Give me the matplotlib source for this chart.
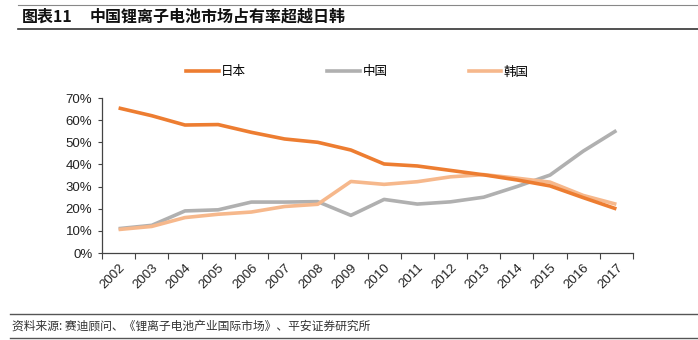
import matplotlib
matplotlib.use('Agg')
import matplotlib.pyplot as plt
from matplotlib.lines import Line2D

years = [str(y) for y in range(2002, 2018)]
japan = [65.5, 62, 57.8, 58, 54.5, 51.5, 50, 46.5, 40.2, 39.3, 37.3, 35.3, 33, 30.3, 25, 19.9]
china = [11, 12.5, 19, 19.5, 23, 23, 23.2, 17, 24.2, 22.1, 23.1, 25.2, 30, 35.2, 46, 55.3]
korea = [10.6, 12, 16, 17.5, 18.5, 21, 22, 32.3, 31, 32.2, 34.4, 35.4, 33.8, 32, 26, 22]
yticks = [0, 10, 20, 30, 40, 50, 60, 70]

c_jp = '#ED7D31'
c_cn = '#B0B0B0'
c_kr = '#F6B88C'

cjk = ['Noto Sans CJK SC', 'DejaVu Sans']
arial = 'Liberation Sans'

fig = plt.figure(figsize=(6.98, 3.40), dpi=100)
ax = fig.add_axes([102 / 698, 1 - 253 / 340, 531 / 698, 155 / 340])

x = list(range(len(years)))
ax.plot(x, japan, color=c_jp, lw=2.6, solid_capstyle='butt', zorder=3)
ax.plot(x, china, color=c_cn, lw=2.6, solid_capstyle='butt', zorder=2)
ax.plot(x, korea, color=c_kr, lw=2.6, solid_capstyle='butt', zorder=2)

ax.set_xlim(-0.5, len(years) - 0.5)
ax.set_ylim(0, 70)
ax.set_yticks(yticks)
ax.set_yticklabels(['%d%%' % v for v in yticks], fontsize=9.5, family=arial, color='#222222')
ax.tick_params(axis='y', length=3, width=0.8, color='#444444', pad=4)

ax.set_xticks([i - 0.5 for i in range(len(years) + 1)])
ax.set_xticklabels([])
ax.tick_params(axis='x', which='major', length=4, width=0.8, color='#444444', direction='out')
ax.set_xticks(x, minor=True)
ax.set_xticklabels(years, minor=True, rotation=45, ha='right', rotation_mode='anchor',
                   fontsize=9.5, family=arial, color='#222222')
ax.tick_params(axis='x', which='minor', length=0, pad=6)

for s in ['top', 'right']:
    ax.spines[s].set_visible(False)
for s in ['left', 'bottom']:
    ax.spines[s].set_color('#444444')
    ax.spines[s].set_linewidth(0.9)

handles = [Line2D([], [], color=c, lw=2.6) for c in (c_jp, c_cn, c_kr)]
fig.legend(handles, ['日本', '中国', '韩国'], loc='center', bbox_to_anchor=(0.512, 1 - 72 / 340),
           ncol=3, frameon=False, prop={'family': cjk, 'size': 9}, handlelength=2.6,
           handletextpad=0.2, columnspacing=6.5)

# header / footer
fig.add_artist(Line2D([18 / 698, 1], [1 - 5 / 340] * 2, color='#888888', lw=0.8))
fig.add_artist(Line2D([18 / 698, 1], [1 - 29 / 340] * 2, color='#333333', lw=1.2))
fig.text(22 / 698, 1 - 17 / 340, '图表11', family=cjk, fontweight='bold', fontsize=11.5,
         va='center', ha='left', color='#111111')
fig.text(90 / 698, 1 - 17 / 340, '中国锂离子电池市场占有率超越日韩', family=cjk, fontweight='bold',
         fontsize=11.5, va='center', ha='left', color='#111111')
fig.add_artist(Line2D([10 / 698, 1], [1 - 314 / 340] * 2, color='#555555', lw=1.0))
fig.add_artist(Line2D([10 / 698, 1], [1 - 338 / 340] * 2, color='#555555', lw=1.0))
fig.text(12 / 698, 1 - 326 / 340, '资料来源: 赛迪顾问、《锂离子电池产业国际市场》、平安证券研究所', family=cjk,
         fontsize=8.5, style='italic', va='center', ha='left', color='#333333')

fig.savefig('out.png', dpi=100)
